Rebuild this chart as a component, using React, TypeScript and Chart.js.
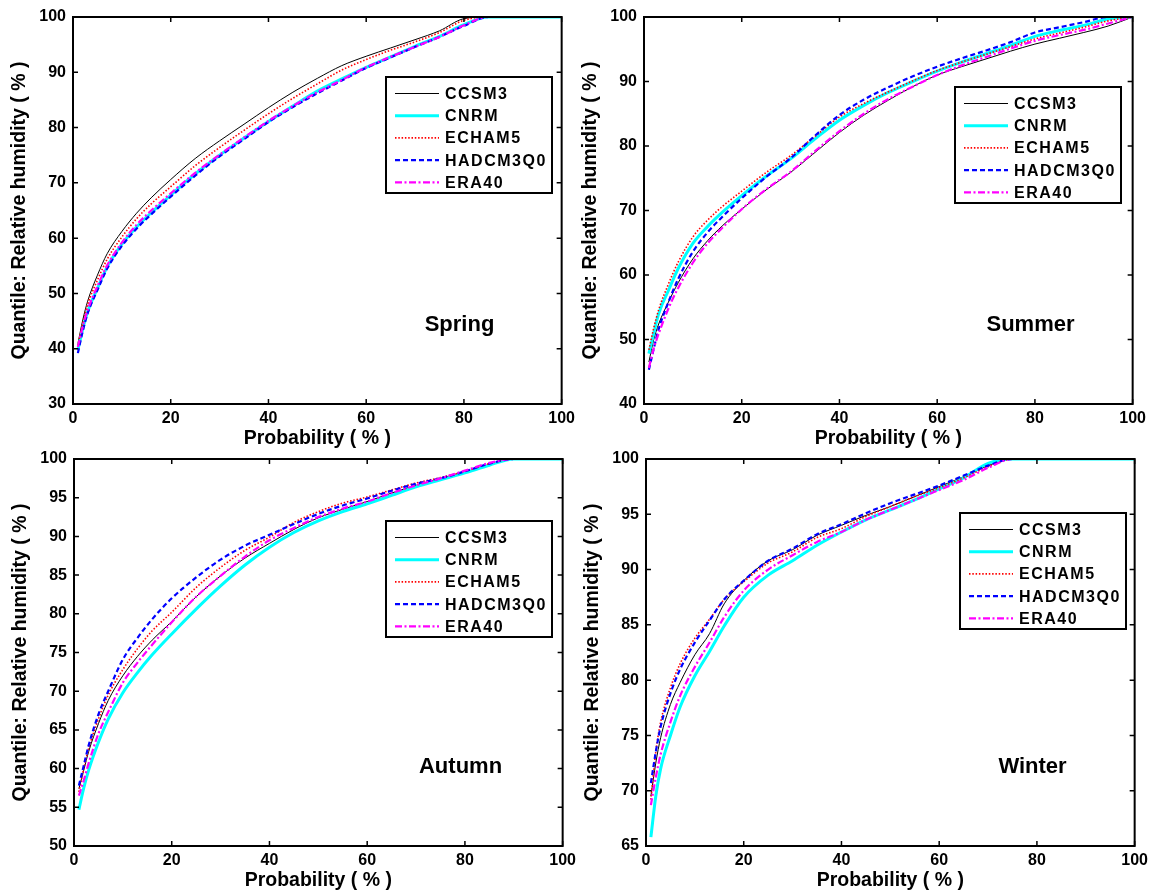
import React, { useEffect, useRef } from 'react';
import { Chart, registerables } from 'chart.js';

Chart.register(...registerables);

// Shared probability grid (%)
const PROB = [1, 2, 3, 5, 7, 10, 13, 16, 20, 25, 30, 35, 40, 45, 50, 55, 60, 65, 70, 75, 80, 85, 90, 95, 100];

const MODELS = ['CCSM3', 'CNRM', 'ECHAM5', 'HADCM3Q0', 'ERA40'];

// Spring
const SPRING_CCSM3 = [40.9, 45.2, 48.6, 53.3, 57.2, 61.2, 64.5, 67.3, 70.6, 74.4, 77.6, 80.6, 83.6, 86.4, 88.9, 91.2, 92.9, 94.4, 95.9, 97.5, 99.7, 100, 100, 100, 100];
const SPRING_CNRM = [39.8, 43.6, 46.7, 50.9, 54.8, 58.9, 62.0, 64.6, 67.8, 71.6, 75.0, 78.1, 81.1, 83.9, 86.6, 88.8, 90.9, 92.8, 94.7, 96.5, 98.6, 100, 100, 100, 100];
const SPRING_ECHAM5 = [40.6, 44.6, 48.0, 52.4, 56.2, 60.2, 63.5, 66.2, 69.3, 73.1, 76.4, 79.5, 82.5, 85.3, 87.9, 90.4, 92.3, 94.0, 95.5, 97.2, 99.4, 100, 100, 100, 100];
const SPRING_HADCM3Q0 = [39.2, 43.2, 46.4, 50.6, 54.5, 58.6, 61.7, 64.3, 67.5, 71.3, 74.8, 77.9, 81.0, 83.7, 86.2, 88.5, 90.8, 92.7, 94.6, 96.4, 98.4, 100, 100, 100, 100];
const SPRING_ERA40 = [40.3, 44.0, 47.0, 51.3, 55.1, 59.2, 62.4, 65.0, 68.1, 71.8, 75.1, 78.2, 81.2, 83.9, 86.4, 88.6, 90.9, 92.8, 94.6, 96.4, 98.5, 100, 100, 100, 100];

// Summer
const SUMMER_CCSM3 = [46.5, 50.0, 52.4, 55.8, 58.8, 62.5, 65.3, 67.6, 70.2, 73.2, 75.9, 79.0, 82.1, 84.8, 87.1, 89.2, 91.0, 92.3, 93.5, 94.7, 95.8, 96.7, 97.6, 98.6, 100];
const SUMMER_CNRM = [47.8, 51.0, 54.0, 57.6, 61.0, 64.9, 67.5, 69.7, 72.3, 75.3, 78.0, 81.1, 84.0, 86.3, 88.3, 90.0, 91.6, 93.0, 94.3, 95.6, 97.0, 97.9, 98.7, 99.7, 100];
const SUMMER_ECHAM5 = [48.4, 51.8, 54.6, 58.6, 62.0, 65.9, 68.5, 70.6, 73.0, 75.9, 78.5, 81.5, 84.5, 86.6, 88.4, 90.1, 91.7, 93.0, 94.2, 95.4, 96.6, 97.5, 98.4, 99.4, 100];
const SUMMER_HADCM3Q0 = [45.3, 48.6, 51.6, 55.8, 59.4, 63.6, 66.6, 69.0, 71.9, 75.2, 78.1, 81.6, 84.8, 87.2, 89.1, 90.8, 92.3, 93.6, 94.8, 96.1, 97.6, 98.4, 99.2, 100, 100];
const SUMMER_ERA40 = [45.6, 48.6, 50.9, 54.8, 58.0, 61.9, 64.9, 67.3, 70.2, 73.3, 76.0, 79.2, 82.3, 85.0, 87.3, 89.2, 91.0, 92.5, 93.8, 95.1, 96.3, 97.2, 98.0, 99.0, 100];

// Autumn
const AUTUMN_CCSM3 = [57.4, 59.8, 62.2, 65.8, 68.8, 72.0, 74.5, 76.6, 79.0, 82.2, 84.9, 87.2, 89.1, 90.9, 92.4, 93.5, 94.5, 95.6, 96.6, 97.5, 98.3, 99.3, 100, 100, 100];
const AUTUMN_CNRM = [54.7, 57.5, 59.8, 63.4, 66.4, 69.8, 72.4, 74.7, 77.4, 80.6, 83.6, 86.3, 88.6, 90.5, 92.0, 93.2, 94.2, 95.3, 96.4, 97.3, 98.2, 99.2, 100, 100, 100];
const AUTUMN_ECHAM5 = [57.0, 60.0, 62.6, 66.4, 69.5, 72.8, 75.5, 77.8, 80.2, 83.4, 86.0, 88.2, 89.9, 91.8, 93.2, 94.3, 95.1, 96.0, 96.9, 97.6, 98.4, 99.4, 100, 100, 100];
const AUTUMN_HADCM3Q0 = [57.8, 60.4, 63.0, 67.0, 70.0, 74.1, 76.9, 79.3, 82.0, 84.7, 87.0, 88.8, 90.2, 91.6, 92.9, 94.0, 94.9, 95.9, 96.8, 97.5, 98.4, 99.4, 100, 100, 100];
const AUTUMN_ERA40 = [56.5, 58.5, 60.7, 64.5, 67.3, 71.1, 73.7, 76.0, 78.9, 82.2, 84.9, 87.4, 89.5, 91.1, 92.5, 93.6, 94.5, 95.6, 96.6, 97.5, 98.5, 99.5, 100, 100, 100];

// Winter
const WINTER_CCSM3 = [69.5, 72.5, 74.8, 77.8, 79.8, 82.3, 84.2, 86.9, 89.0, 90.8, 91.8, 93.1, 94.0, 94.9, 95.7, 96.6, 97.5, 98.4, 99.4, 100, 100, 100, 100, 100, 100];
const WINTER_CNRM = [65.8, 69.5, 72.0, 75.0, 77.6, 80.4, 82.6, 84.9, 87.5, 89.5, 90.8, 92.2, 93.4, 94.5, 95.4, 96.3, 97.3, 98.3, 99.6, 100, 100, 100, 100, 100, 100];
const WINTER_ECHAM5 = [69.2, 73.5, 76.2, 79.3, 81.5, 83.8, 85.5, 87.3, 88.9, 90.6, 91.6, 92.9, 93.7, 94.8, 95.7, 96.6, 97.4, 98.3, 99.3, 100, 100, 100, 100, 100, 100];
const WINTER_HADCM3Q0 = [70.7, 73.5, 75.8, 78.8, 81.0, 83.4, 85.4, 87.3, 89.0, 90.8, 91.9, 93.2, 94.1, 95.1, 96.0, 96.8, 97.6, 98.5, 99.4, 100, 100, 100, 100, 100, 100];
const WINTER_ERA40 = [68.7, 71.2, 73.3, 76.2, 78.6, 81.2, 83.4, 85.7, 88.1, 90.0, 91.3, 92.5, 93.4, 94.5, 95.4, 96.3, 97.2, 98.1, 99.2, 100, 100, 100, 100, 100, 100];

const X_TITLE = 'Probability ( % )';
const Y_TITLE = 'Quantile: Relative humidity ( % )';

const FONT = '"Liberation Sans", Arial, Helvetica, sans-serif';

const LINE_STYLES = [
  { color: '#000000', width: 1, dash: [] as number[] },
  { color: '#00FFFF', width: 3, dash: [] as number[] },
  { color: '#FF0000', width: 1.6, dash: [1.5, 1.8] },
  { color: '#0000FF', width: 2.2, dash: [5, 3] },
  { color: '#FF00FF', width: 2.2, dash: [7, 2.5, 2, 2.5] },
];

const PANELS = [
  { season: 'Spring', series: [SPRING_CCSM3, SPRING_CNRM, SPRING_ECHAM5, SPRING_HADCM3Q0, SPRING_ERA40], yMin: 30, yStep: 10, left: 0, top: 0, legendX: 313, legendY: 60 },
  { season: 'Summer', series: [SUMMER_CCSM3, SUMMER_CNRM, SUMMER_ECHAM5, SUMMER_HADCM3Q0, SUMMER_ERA40], yMin: 40, yStep: 10, left: 571, top: 0, legendX: 311, legendY: 70 },
  { season: 'Autumn', series: [AUTUMN_CCSM3, AUTUMN_CNRM, AUTUMN_ECHAM5, AUTUMN_HADCM3Q0, AUTUMN_ERA40], yMin: 50, yStep: 5, left: 1, top: 442, legendX: 312, legendY: 62 },
  { season: 'Winter', series: [WINTER_CCSM3, WINTER_CNRM, WINTER_ECHAM5, WINTER_HADCM3Q0, WINTER_ERA40], yMin: 65, yStep: 5, left: 573, top: 442, legendX: 314, legendY: 54 },
];

const CANVAS_W = 580;
const CANVAS_H = 450;

const decorPlugin = {
  id: 'matlabDecor',
  afterDatasetsDraw(chart: any, _args: any, opts: any) {
    const { ctx, chartArea: a, scales } = chart;
    ctx.save();
    // axes box
    ctx.setLineDash([]);
    ctx.strokeStyle = '#000';
    ctx.lineWidth = 2;
    ctx.strokeRect(a.left, a.top, a.right - a.left, a.bottom - a.top);
    // inside ticks on all sides
    const tl = 5;
    ctx.lineWidth = 1.5;
    ctx.beginPath();
    scales.y.ticks.forEach((t: any) => {
      const py = scales.y.getPixelForValue(t.value);
      ctx.moveTo(a.left, py); ctx.lineTo(a.left + tl, py);
      ctx.moveTo(a.right, py); ctx.lineTo(a.right - tl, py);
    });
    scales.x.ticks.forEach((t: any) => {
      const px = scales.x.getPixelForValue(t.value);
      ctx.moveTo(px, a.bottom); ctx.lineTo(px, a.bottom - tl);
      ctx.moveTo(px, a.top); ctx.lineTo(px, a.top + tl);
    });
    ctx.stroke();

    // season label
    ctx.fillStyle = '#000';
    ctx.font = `bold 22px ${FONT}`;
    ctx.textAlign = 'center';
    ctx.textBaseline = 'middle';
    ctx.fillText(opts.season, a.left + 0.791 * (a.right - a.left), a.top + 0.796 * (a.bottom - a.top));

    // legend box
    const lx = a.left + opts.legendX;
    const ly = a.top + opts.legendY;
    const lw = 166;
    const lh = 116;
    ctx.fillStyle = '#fff';
    ctx.fillRect(lx, ly, lw, lh);
    ctx.lineWidth = 2;
    ctx.strokeStyle = '#000';
    ctx.strokeRect(lx, ly, lw, lh);
    ctx.font = `bold 16px ${FONT}`;
    ctx.textAlign = 'left';
    chart.data.datasets.forEach((ds: any, i: number) => {
      const y = ly + 16.5 + i * 22.2;
      ctx.strokeStyle = ds.borderColor;
      ctx.lineWidth = ds.borderWidth;
      ctx.setLineDash(ds.borderDash || []);
      ctx.beginPath();
      ctx.moveTo(lx + 9, y);
      ctx.lineTo(lx + 53, y);
      ctx.stroke();
      ctx.setLineDash([]);
      ctx.fillStyle = '#000';
      (ctx as any).letterSpacing = '1.5px';
      ctx.fillText(ds.label, lx + 59, y + 1);
      (ctx as any).letterSpacing = '0px';
    });
    ctx.restore();
  },
};

function Panel({ panel }: { panel: typeof PANELS[number] }) {
  const ref = useRef<HTMLCanvasElement | null>(null);
  useEffect(() => {
    if (!ref.current) return;
    const datasets = MODELS.map((name, i) => ({
      label: name,
      data: PROB.map((p, j) => ({ x: p, y: panel.series[i][j] })),
      borderColor: LINE_STYLES[i].color,
      backgroundColor: LINE_STYLES[i].color,
      borderWidth: LINE_STYLES[i].width,
      borderDash: LINE_STYLES[i].dash,
      pointRadius: 0,
      fill: false,
      cubicInterpolationMode: 'monotone' as const,
      order: MODELS.length - 1 - i,
    }));
    const tickFont = { family: FONT, size: 16, weight: 'bold' as const };
    const titleFont = { family: FONT, size: 19.5, weight: 'bold' as const };
    const chart = new Chart(ref.current, {
      type: 'line',
      data: { datasets },
      plugins: [decorPlugin],
      options: {
        responsive: false,
        animation: false,
        devicePixelRatio: 1,
        layout: { padding: { top: 17, right: 15, left: 0, bottom: 0 } },
        plugins: {
          legend: { display: false },
          tooltip: { enabled: false },
          matlabDecor: { season: panel.season, legendX: panel.legendX, legendY: panel.legendY },
        } as any,
        scales: {
          x: {
            type: 'linear',
            min: 0,
            max: 100,
            ticks: { stepSize: 20, font: tickFont, color: '#000', padding: 5, maxRotation: 0 },
            grid: { display: false, drawTicks: false },
            border: { display: false },
            title: { display: true, text: X_TITLE, font: titleFont, color: '#000', padding: { top: 0, bottom: 0 } },
            afterFit: (s: any) => { s.height = 46; },
          },
          y: {
            type: 'linear',
            min: panel.yMin,
            max: 100,
            ticks: { stepSize: panel.yStep, font: tickFont, color: '#000', padding: 7 },
            grid: { display: false, drawTicks: false },
            border: { display: false },
            title: { display: true, text: Y_TITLE, font: titleFont, color: '#000', padding: { top: 8, bottom: 0 } },
            afterFit: (s: any) => { s.width = 73; },
          },
        },
      },
    });
    return () => chart.destroy();
  }, [panel]);
  return (
    <canvas
      ref={ref}
      width={CANVAS_W}
      height={CANVAS_H}
      style={{ position: 'absolute', left: panel.left, top: panel.top, width: CANVAS_W, height: CANVAS_H }}
    />
  );
}

export default function App() {
  return (
    <div style={{ position: 'absolute', left: 0, top: 0, width: 1156, height: 895, background: '#fff', overflow: 'hidden' }}>
      {PANELS.map((p) => (
        <Panel key={p.season} panel={p} />
      ))}
    </div>
  );
}
